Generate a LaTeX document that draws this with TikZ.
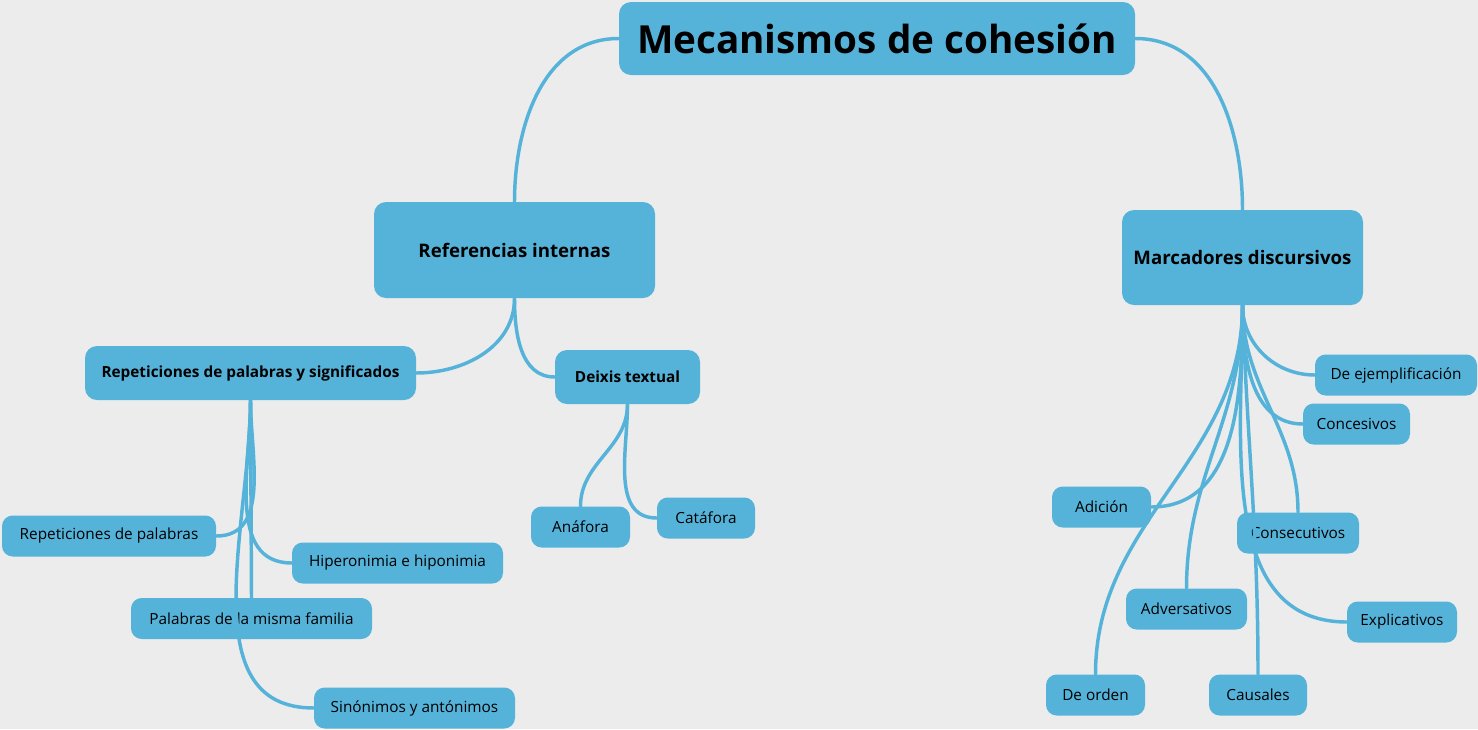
\documentclass[tikz,border=0pt]{standalone}
\usepackage{fontspec}
\setmainfont{Open Sans}
\definecolor{bg}{HTML}{ECECEC}
\definecolor{nb}{HTML}{55B3DA}
\begin{document}
\begin{tikzpicture}[x=0.75pt,y=-0.75pt,
  box/.style={fill=nb,rounded corners=9pt,inner sep=0pt,align=center},
  leaf/.style={box,font=\fontsize{11.5}{13}\selectfont,rounded corners=8pt},
  con/.style={draw=nb,line width=2.6pt,line cap=round}]
\fill[bg] (0,0) rectangle (1478,729);
\node[box,minimum width=516*0.75pt,minimum height=73*0.75pt,font=\fontsize{29}{34}\selectfont\bfseries] (t) at (877,38.5) {Mecanismos de cohesión};
\node[box,minimum width=281*0.75pt,minimum height=96*0.75pt,font=\fontsize{14}{17}\selectfont\bfseries] (ri) at (514.5,250) {Referencias internas};
\node[box,minimum width=241*0.75pt,minimum height=95*0.75pt,font=\fontsize{14}{17}\selectfont\bfseries] (md) at (1242.5,257.5) {Marcadores discursivos};
\node[box,minimum width=331*0.75pt,minimum height=54*0.75pt,font=\fontsize{11.5}{13}\selectfont\bfseries] (rp) at (250.5,373) {Repeticiones de palabras y significados};
\node[box,minimum width=145*0.75pt,minimum height=54*0.75pt,font=\fontsize{11.5}{13}\selectfont\bfseries] (dx) at (627.5,377) {Deixis textual};
\tikzset{lf/.style={leaf,minimum height=41*0.75pt,minimum width=#1*0.75pt}}
\node[lf=214] (a1) at (109,536) {Repeticiones de palabras};
\node[lf=211] (a2) at (397.5,563) {Hiperonimia e hiponimia};
\node[lf=241] (a3) at (251.5,618.5) {Palabras de la misma familia};
\node[lf=201] (a4) at (414.5,708) {Sinónimos y antónimos};
\node[lf=99] (b1) at (580.5,527) {Anáfora};
\node[lf=98] (b2) at (706,518) {Catáfora};
\node[lf=162] (c1) at (1396,375) {De ejemplificación};
\node[lf=107] (c2) at (1356.5,424) {Concesivos};
\node[lf=99] (c3) at (1101.5,507) {Adición};
\node[lf=122] (c4) at (1298,533) {Consecutivos};
\node[lf=121] (c5) at (1186.5,609) {Adversativos};
\node[lf=110] (c6) at (1402,622) {Explicativos};
\node[lf=99] (c7) at (1095.5,695) {De orden};
\node[lf=98] (c8) at (1258,695) {Causales};
\draw[con] (t.west) to[out=180,in=90] (ri.north);
\draw[con] (t.east) to[out=0,in=90] (md.north);
\draw[con] (ri.south) to[out=270,in=0] (rp.east);
\draw[con] (ri.south) to[out=270,in=180] (dx.west);
\draw[con] (rp.south) to[out=270,in=0] (a1.east);
\draw[con] (rp.south) to[out=270,in=180] (a2.west);
\draw[con] (rp.south) -- (a3.north);
\draw[con] (rp.south) to[out=270,in=180] (a4.west);
\draw[con] (dx.south) to[out=270,in=90] (b1.north);
\draw[con] (dx.south) to[out=270,in=180] (b2.west);
\draw[con] (md.south) to[out=270,in=180] (c1.west);
\draw[con] (md.south) to[out=270,in=180] (c2.west);
\draw[con] (md.south) to[out=270,in=0] (c3.east);
\draw[con] (md.south) to[out=270,in=90] (c4.north);
\draw[con] (md.south) to[out=270,in=90] (c5.north);
\draw[con] (md.south) to[out=270,in=180] (c6.west);
\draw[con] (md.south) to[out=270,in=90] (c7.north);
\draw[con] (md.south) to[out=272,in=90] (c8.north);
\end{tikzpicture}
\end{document}
